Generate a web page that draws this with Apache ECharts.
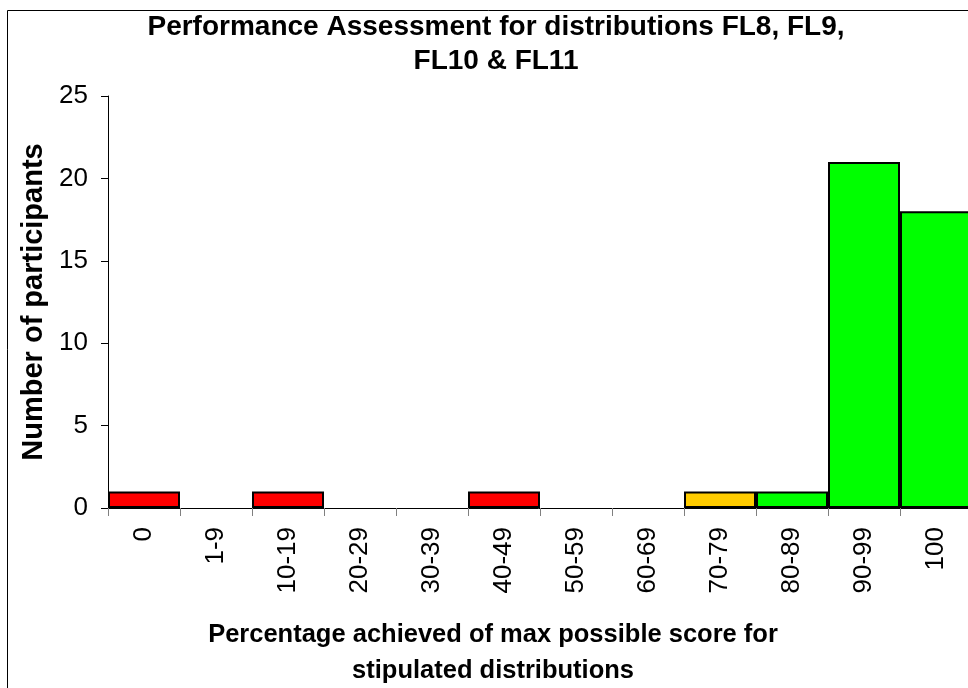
<!DOCTYPE html>
<html>
<head>
<meta charset="utf-8">
<script src="https://cdn.jsdelivr.net/npm/echarts@6/dist/echarts.min.js"></script>
<style>html,body{margin:0;padding:0;background:#fff}#c{width:968px;height:688px}</style>
</head>
<body>
<div id="c"></div>
<script>
const categories = ['0','1-9','10-19','20-29','30-39','40-49','50-59','60-69','70-79','80-89','90-99','100'];
const participants = [1,0,1,0,0,1,0,0,1,1,21,18];
const barColors = ['#FF0000','#FF0000','#FF0000','#FF0000','#FF0000','#FF0000','#FF0000','#FF0000','#FFCC00','#00FF00','#00FF00','#00FF00'];
const yTicks = [0,5,10,15,20,25];

const chart = echarts.init(document.getElementById('c'));
const font = 'Liberation Sans, Arial, sans-serif';
chart.setOption({
  animation: false,
  backgroundColor: '#fff',
  title: [{
    text: 'Performance Assessment for distributions FL8, FL9,\nFL10 & FL11',
    left: 491, top: 5, textAlign: 'center',
    textStyle: {fontFamily: font, fontWeight: 'bold', fontSize: 28, lineHeight: 34, color: '#000'}
  }, {
    text: 'Percentage achieved of max possible score for\nstipulated distributions',
    left: 488, top: 612, textAlign: 'center',
    textStyle: {fontFamily: font, fontWeight: 'bold', fontSize: 25.5, lineHeight: 36, color: '#000'}
  }],
  graphic: [{
    type: 'rect', shape: {x: 7.5, y: 10.5, width: 1000, height: 1000},
    style: {fill: 'none', stroke: '#000', lineWidth: 1}, z: 100, silent: true
  }],
  grid: {left: 108, top: 96, width: 864, height: 412, containLabel: false, outerBoundsMode: 'none'},
  xAxis: {
    type: 'category', data: categories,
    axisLine: {lineStyle: {color: '#000', width: 1}},
    axisTick: {show: true, length: 8, lineStyle: {color: '#808080'}},
    axisLabel: {rotate: 90, fontFamily: font, fontSize: 26, color: '#000', margin: 19}
  },
  yAxis: {
    type: 'value', min: 0, max: 25, interval: 5,
    splitLine: {show: false},
    axisLine: {show: true, lineStyle: {color: '#000', width: 1}},
    axisTick: {show: true, length: 7, lineStyle: {color: '#000'}},
    axisLabel: {fontFamily: font, fontSize: 26, color: '#000', margin: 20,
      formatter: v => yTicks.includes(v) ? String(v) : ''},
    name: 'Number of participants', nameLocation: 'middle', nameGap: 53,
    nameTextStyle: {fontFamily: font, fontWeight: 'bold', fontSize: 29, color: '#000'}
  },
  series: [{
    type: 'bar', barCategoryGap: '0%', barGap: '0%',
    data: participants.map((v, i) => ({value: v, itemStyle: {color: barColors[i], borderWidth: v === 0 ? 0 : 2}})),
    itemStyle: {borderColor: '#000', borderWidth: 2}
  }]
});
</script>
</body>
</html>
